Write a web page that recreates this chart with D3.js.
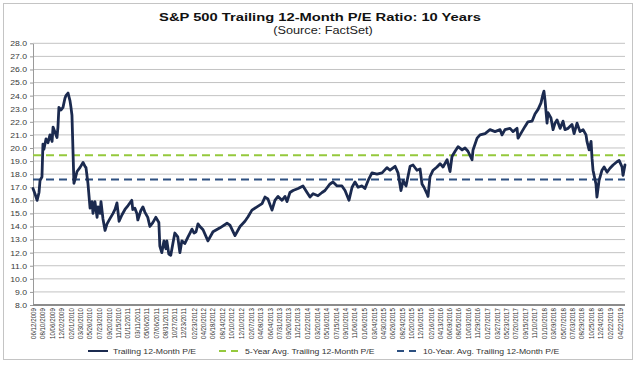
<!DOCTYPE html>
<html><head><meta charset="utf-8">
<script src="https://cdn.jsdelivr.net/npm/d3@7"></script>
<style>
body{margin:0;background:#fff}
svg{display:block}
text{font-family:"Liberation Sans",Arial,sans-serif}
</style>
</head><body>
<svg id="c" width="643" height="367"></svg>
<script>
const titleText = "S&P 500 Trailing 12-Month P/E Ratio: 10 Years";
const subtitleText = "(Source: FactSet)";
const seriesNames = ["Trailing 12-Month P/E", "5-Year Avg. Trailing 12-Month P/E", "10-Year. Avg. Trailing 12-Month P/E"];
const avg5Year = 19.45;
const avg10Year = 17.6;
const yTicks = [8,9,10,11,12,13,14,15,16,17,18,19,20,21,22,23,24,25,26,27,28];
const xTickLabels = ["06/12/2009","08/10/2009","10/06/2009","12/02/2009","02/01/2010","03/30/2010","05/26/2010","07/23/2010","09/20/2010","11/15/2010","01/12/2011","03/11/2011","05/06/2011","07/06/2011","08/31/2011","10/27/2011","12/23/2011","02/23/2012","04/20/2012","06/18/2012","08/14/2012","10/10/2012","12/10/2012","02/07/2013","04/08/2013","06/04/2013","07/31/2013","09/26/2013","11/21/2013","01/22/2014","03/20/2014","05/16/2014","07/15/2014","09/10/2014","11/06/2014","01/06/2015","03/04/2015","04/30/2015","06/26/2015","08/24/2015","10/20/2015","12/16/2015","02/16/2016","04/13/2016","06/09/2016","08/05/2016","10/03/2016","11/29/2016","01/27/2017","03/27/2017","05/23/2017","07/20/2017","09/15/2017","11/10/2017","01/10/2018","03/09/2018","05/07/2018","07/03/2018","08/29/2018","10/25/2018","12/24/2018","02/22/2019","04/22/2019"];
const peDates = ["2009-06-12","2009-06-24","2009-07-07","2009-07-19","2009-07-25","2009-08-06","2009-08-12","2009-08-18","2009-08-31","2009-09-12","2009-09-24","2009-10-07","2009-10-13","2009-10-25","2009-11-06","2009-11-12","2009-11-18","2009-12-01","2009-12-13","2009-12-25","2009-12-31","2010-01-13","2010-01-25","2010-01-31","2010-02-06","2010-02-18","2010-02-25","2010-03-09","2010-03-27","2010-04-15","2010-04-27","2010-05-03","2010-05-15","2010-05-28","2010-06-09","2010-06-15","2010-06-27","2010-07-10","2010-07-16","2010-07-28","2010-08-03","2010-08-15","2010-08-28","2010-09-09","2010-09-27","2010-10-16","2010-10-28","2010-11-09","2010-11-22","2010-12-10","2010-12-28","2011-01-16","2011-02-08","2011-02-14","2011-02-27","2011-03-11","2011-03-17","2011-04-04","2011-04-17","2011-04-29","2011-05-17","2011-05-30","2011-06-17","2011-07-05","2011-07-24","2011-07-30","2011-08-11","2011-08-24","2011-09-05","2011-09-11","2011-09-23","2011-10-05","2011-10-18","2011-10-30","2011-11-17","2011-11-30","2011-12-12","2011-12-30","2012-01-19","2012-01-31","2012-02-12","2012-02-25","2012-03-08","2012-03-20","2012-04-01","2012-04-20","2012-05-20","2012-06-20","2012-08-02","2012-09-14","2012-10-02","2012-11-02","2012-12-03","2013-01-02","2013-01-21","2013-02-14","2013-03-17","2013-04-17","2013-05-05","2013-05-23","2013-06-17","2013-07-05","2013-07-24","2013-08-17","2013-09-05","2013-09-17","2013-10-05","2013-10-24","2013-11-24","2013-12-24","2014-01-18","2014-02-05","2014-02-24","2014-03-26","2014-04-20","2014-05-08","2014-06-08","2014-06-26","2014-07-21","2014-08-20","2014-09-08","2014-10-02","2014-10-21","2014-11-08","2014-11-27","2014-12-21","2015-01-08","2015-01-27","2015-02-20","2015-03-23","2015-04-23","2015-05-23","2015-06-11","2015-07-12","2015-07-30","2015-08-17","2015-08-30","2015-09-17","2015-10-12","2015-10-30","2015-11-23","2015-12-12","2015-12-24","2016-01-05","2016-01-24","2016-01-30","2016-02-11","2016-03-01","2016-03-25","2016-04-13","2016-05-01","2016-05-26","2016-06-13","2016-06-25","2016-07-14","2016-08-01","2016-08-26","2016-09-13","2016-10-01","2016-10-26","2016-11-01","2016-11-26","2016-12-14","2017-01-14","2017-02-13","2017-03-16","2017-04-16","2017-04-28","2017-05-16","2017-06-16","2017-07-04","2017-07-29","2017-08-04","2017-08-28","2017-09-16","2017-10-04","2017-10-29","2017-11-16","2017-12-05","2017-12-23","2018-01-04","2018-01-10","2018-01-17","2018-01-29","2018-02-04","2018-02-22","2018-03-07","2018-03-19","2018-03-31","2018-04-19","2018-05-07","2018-05-19","2018-06-07","2018-07-01","2018-07-14","2018-08-01","2018-08-19","2018-09-07","2018-09-25","2018-10-01","2018-10-14","2018-10-26","2018-11-01","2018-11-07","2018-11-25","2018-12-01","2018-12-14","2019-01-01","2019-01-14","2019-02-01","2019-02-19","2019-03-10","2019-04-03","2019-04-16","2019-05-04","2019-05-10","2019-05-22"];
const peValues = [16.9,16.5,16.0,16.6,17.5,17.8,20.3,19.9,20.7,20.4,21.0,20.5,21.6,21.2,20.8,21.6,23.1,22.9,23.1,23.8,24.0,24.2,23.6,23.1,22.5,17.3,17.6,18.2,18.5,18.9,18.6,18.5,17.3,15.4,15.9,15.0,15.9,14.7,15.5,15.0,15.9,14.6,13.7,14.2,14.6,15.0,15.3,15.8,14.4,14.9,15.3,15.6,16.0,15.3,15.4,15.0,14.5,15.2,15.5,15.1,14.7,14.0,14.3,14.7,14.3,12.5,12.0,12.9,12.3,12.9,11.9,11.8,12.7,13.5,13.2,12.0,12.9,12.7,13.2,13.5,13.8,13.5,13.6,14.2,14.0,13.75,12.9,13.6,13.9,14.25,14.1,13.3,14.0,14.4,14.75,15.25,15.5,15.75,16.25,16.1,15.25,16.0,16.3,16.0,16.3,15.9,16.6,16.75,16.9,17.1,16.6,16.25,16.5,16.35,16.6,16.75,17.25,17.4,17.1,17.1,16.75,16.0,17.0,17.4,17.0,17.1,16.9,17.5,18.1,18.0,18.1,18.5,18.3,18.6,18.1,16.75,17.5,17.1,18.6,18.7,18.3,18.4,17.25,17.0,16.5,16.3,17.8,18.3,18.55,18.8,18.55,19.1,18.2,19.35,19.75,20.1,19.85,20.0,19.75,19.1,19.85,20.75,21.0,21.1,21.4,21.25,21.4,21.0,21.4,21.5,21.25,21.5,20.75,21.25,21.65,22.0,22.05,22.6,22.95,23.45,24.1,24.35,23.6,21.9,22.7,22.3,21.4,21.9,22.15,21.5,22.05,21.4,21.5,21.8,21.1,21.9,21.25,21.4,21.0,20.5,19.85,20.5,19.2,18.3,17.25,16.25,17.5,18.3,18.55,18.15,18.45,18.7,18.95,19.05,18.55,17.9,18.7];

const SX = 1.27; // horizontal stretch of the original picture's text
const navy = "#1b2a4f", green = "#95c93d", blue = "#2c4f80";
const svg = d3.select("#c");
const parse = d3.timeParse("%Y-%m-%d");
const parseLbl = d3.timeParse("%m/%d/%Y");
const x = d3.scaleTime().domain([parse("2009-06-12"), parse("2019-05-24")]).range([33, 625.3]);
const y = d3.scaleLinear().domain([8, 28]).range([305, 43.3]);
const x0 = 33, x1 = 625;

svg.append("rect").attr("x",3.5).attr("y",3.5).attr("width",629).attr("height",356)
  .attr("fill","none").attr("stroke","#c4c4c4");

function stretchedText(g, str, tx, ty, size, weight, anchor, fill){
  return g.append("text").attr("transform",`translate(${tx},${ty}) scale(${SX},1)`)
    .attr("text-anchor",anchor).attr("font-size",size).attr("font-weight",weight)
    .attr("fill",fill).text(str);
}
stretchedText(svg, titleText, 320, 21, 11.6, "bold", "middle", "#111");
stretchedText(svg, subtitleText, 323, 33.5, 10, "normal", "middle", "#222");

// grid
svg.append("g").selectAll("line").data(yTicks.filter(d => d > 8)).join("line")
  .attr("x1",x0).attr("x2",x1).attr("y1",d=>y(d)).attr("y2",d=>y(d))
  .attr("stroke","#c3c3c3").attr("stroke-width",1);

// y axis
const ya = svg.append("g").attr("transform",`translate(${x0},0)`)
  .call(d3.axisLeft(y).tickValues(yTicks).tickFormat(d3.format(".1f")).tickSize(3).tickSizeOuter(0));
ya.select(".domain").attr("stroke","#9a9a9a");
ya.selectAll(".tick line").attr("stroke","#9a9a9a");
ya.selectAll(".tick text").attr("x",null).attr("dy",null)
  .attr("transform",`translate(-6,2.4) scale(${SX},1)`)
  .attr("font-size",6.8).attr("fill","#3a3a3a").attr("font-family",null);

// x axis line
svg.append("line").attr("x1",x0).attr("x2",x1).attr("y1",y(8)).attr("y2",y(8))
  .attr("stroke","#8c8c8c").attr("stroke-width",2);

// x tick labels
svg.append("g").selectAll("text").data(xTickLabels).join("text")
  .attr("transform", d => `translate(${x(parseLbl(d))},308) rotate(-90) scale(1,${SX})`)
  .attr("text-anchor","end").attr("dy","0.35em").attr("font-size",6.2).attr("fill","#333")
  .text(d => d);

// average lines
svg.append("line").attr("x1",x0).attr("x2",x1).attr("y1",y(avg5Year)).attr("y2",y(avg5Year))
  .attr("stroke",green).attr("stroke-width",2).attr("stroke-dasharray","8,5");
svg.append("line").attr("x1",x0).attr("x2",x1).attr("y1",y(avg10Year)).attr("y2",y(avg10Year))
  .attr("stroke",blue).attr("stroke-width",2).attr("stroke-dasharray","8,5");

// series
const pts = peDates.map((d,i)=>({t:parse(d), v:peValues[i]}));
svg.append("path").datum(pts)
  .attr("d", d3.line().x(d=>x(d.t)).y(d=>y(d.v)))
  .attr("fill","none").attr("stroke",navy).attr("stroke-width",2.8)
  .attr("stroke-linejoin","round").attr("stroke-linecap","round");

// legend
const lg = svg.append("g");
const legendItems = [
  {name: seriesNames[0], color: navy, dash: null, lx: 88, lw: 20, tx: 113},
  {name: seriesNames[1], color: green, dash: "7,5", lx: 219, lw: 19, tx: 245},
  {name: seriesNames[2], color: blue, dash: "7,5", lx: 397, lw: 20, tx: 423}
];
legendItems.forEach(it => {
  lg.append("line").attr("x1",it.lx).attr("x2",it.lx+it.lw).attr("y1",351).attr("y2",351)
    .attr("stroke",it.color).attr("stroke-width",2).attr("stroke-dasharray",it.dash);
  stretchedText(lg, it.name, it.tx, 353.5, 6.8, "normal", "start", "#333");
});
</script>
</body></html>
